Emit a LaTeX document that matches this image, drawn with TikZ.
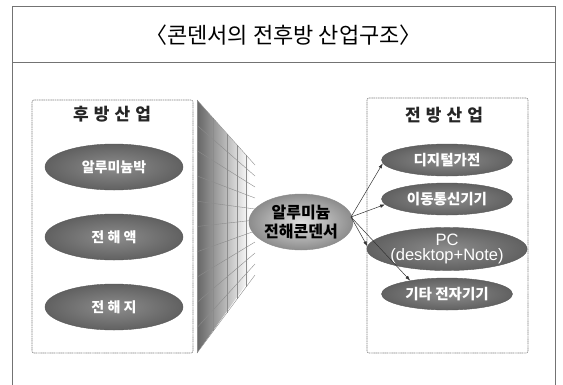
\documentclass[tikz,border=0pt]{standalone}
\usepackage{fontspec}
\newfontfamily\kr{Noto Sans CJK KR}
\setsansfont{Liberation Sans}
\usetikzlibrary{shapes.geometric,arrows.meta}
\tikzset{
  frameline/.style={draw=black!55,line width=0.7pt},
  groupbox/.style={draw=black!50,line width=0.6pt,dash pattern=on 1.2pt off 0.6pt,rounded corners=2pt},
  grouptitle/.style={font=\kr\bfseries\fontsize{17}{19}\selectfont\addfontfeature{LetterSpace=30},text=black!85},
  darkell/.style={ellipse,draw=black!65,line width=0.4pt,inner color=black!45,outer color=black!62,text=white,inner sep=0pt,align=center},
  leftell/.style={darkell,minimum width=138pt,minimum height=46pt,font=\kr\bfseries\fontsize{14}{16}\selectfont},
  rightell/.style={darkell,minimum width=131pt,minimum height=32pt,font=\kr\bfseries\fontsize{14.5}{16}\selectfont},
  coreell/.style={ellipse,draw=black!45,line width=0.4pt,inner color=black!12,outer color=black!45,minimum width=97pt,minimum height=56pt,inner sep=0pt,align=center,font=\kr\bfseries\fontsize{16}{19}\selectfont},
  fanline/.style={draw=black!45,line width=0.4pt},
  arr/.style={draw=black!80,line width=0.5pt,-{Latex[length=5pt,width=3.5pt]}}
}
\begin{document}
\begin{tikzpicture}[x=1pt,y=-1pt]
\useasboundingbox (0,0) rectangle (563,384);
% outer frame
\draw[frameline] (12,390) -- (12,6) -- (555,6) -- (555,390);
\draw[frameline] (12,62) -- (555,62);
\node[font=\kr\fontsize{22}{24}\selectfont] (title) at (283.5,35) {〈콘덴서의 전후방 산업구조〉};
% left group
\draw[groupbox] (32,100) rectangle (193,353);
\node[grouptitle] (ltitle) at (112,114) {후방산업};
\node[leftell] (l1) at (114,167) {알루미늄박};
\node[leftell] (l2) at (114,237) {전 해 액};
\node[leftell] (l3) at (114,307) {전 해 지};
% perspective fan
\shade[left color=black!60,right color=white] (197,100) -- (250,160) -- (250,279) -- (197,353) -- cycle;
\foreach \i in {0,...,10} {
  \draw[fanline] (197,{100+\i*25.3}) -- (255,{165+\i*11});
}
\foreach \xx in {197,213,227,237,246} {
  \draw[fanline] (\xx,{100+(\xx-197)*65/58}) -- (\xx,{353-(\xx-197)*78/58});
}
% core
\node[coreell] (core) at (301,222) {알루미늄\\전해콘덴서};
% right group
\draw[groupbox] (367,98) rectangle (528,353);
\node[grouptitle] (rtitle) at (444,115) {전방산업};
\node[rightell] (r1) at (447,160) {디지털가전};
\node[rightell] (r2) at (447,199) {이동통신기기};
\node[rightell,minimum height=38pt,font=\sffamily\fontsize{16.5}{15.5}\selectfont] (r3) at (447,249) {PC\\(desktop+Note)};
\node[rightell] (r4) at (447,294) {기타 전자기기};
\coordinate (src) at (351,217);
\draw[arr] (src) -- (r1.183);
\draw[arr] (src) -- (r2.185);
\draw[arr] (src) -- (r3.178);
\draw[arr] (src) -- (r4.160);
\end{tikzpicture}
\end{document}
